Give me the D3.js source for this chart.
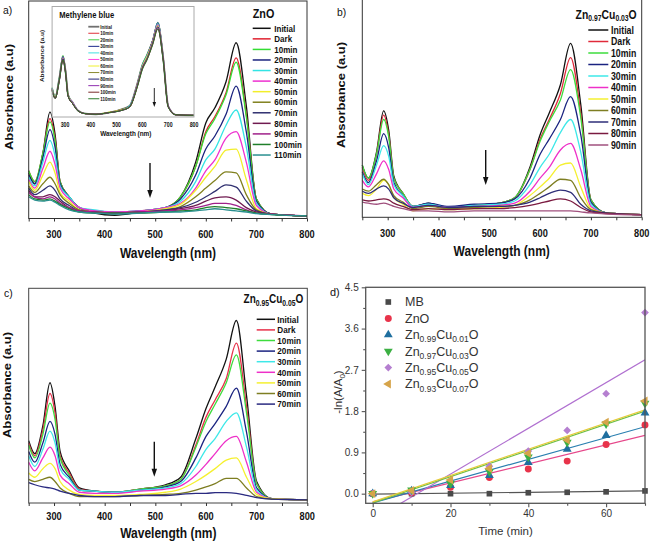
<!DOCTYPE html>
<html><head><meta charset="utf-8">
<script src="https://cdn.jsdelivr.net/npm/d3@7/dist/d3.min.js"></script>
<style>
html,body{margin:0;padding:0;background:#fff;}
svg{display:block;}
text{font-family:Arial,"Liberation Sans",Helvetica,sans-serif;}
</style></head><body>
<svg id="chart" width="652" height="543"></svg>
<script>
// ================= DATA =================
const wavelength = [250,262,278,292,302,312,330,350,380,420,470,520,550,580,600,618,640,660,680,700,730,800];
const waveTicks = [300,400,500,600,700,800];

// (a) ZnO
const labelsZnO = ['Initial','Dark','10min','20min','30min','40min','50min','60min','70min','80min','90min','100min','110min'];
const absZnO = [
 [0.21,0.16,0.30,0.49,0.39,0.17,0.10,0.05,0.025,0.015,0.03,0.05,0.10,0.26,0.44,0.51,0.63,0.81,0.52,0.09,0.02,0.012],
 [0.22,0.17,0.30,0.46,0.37,0.17,0.10,0.05,0.03,0.025,0.035,0.05,0.10,0.24,0.40,0.47,0.58,0.74,0.48,0.09,0.02,0.012],
 [0.22,0.17,0.30,0.445,0.36,0.17,0.10,0.05,0.03,0.025,0.035,0.05,0.10,0.24,0.39,0.46,0.57,0.72,0.47,0.09,0.02,0.012],
 [0.20,0.16,0.28,0.41,0.33,0.16,0.10,0.05,0.035,0.03,0.035,0.05,0.09,0.20,0.32,0.38,0.48,0.61,0.40,0.08,0.02,0.012],
 [0.19,0.15,0.26,0.36,0.29,0.15,0.10,0.05,0.04,0.03,0.035,0.05,0.08,0.17,0.27,0.32,0.43,0.50,0.33,0.07,0.02,0.012],
 [0.18,0.14,0.23,0.31,0.25,0.14,0.09,0.05,0.035,0.03,0.035,0.05,0.07,0.14,0.22,0.27,0.37,0.40,0.26,0.06,0.02,0.012],
 [0.17,0.13,0.20,0.26,0.21,0.12,0.08,0.04,0.03,0.025,0.03,0.045,0.065,0.13,0.19,0.24,0.315,0.32,0.18,0.045,0.02,0.012],
 [0.15,0.12,0.16,0.19,0.16,0.11,0.07,0.04,0.03,0.025,0.03,0.04,0.055,0.10,0.14,0.175,0.215,0.21,0.11,0.04,0.02,0.012],
 [0.14,0.11,0.13,0.15,0.13,0.09,0.06,0.035,0.03,0.025,0.03,0.04,0.05,0.075,0.10,0.125,0.155,0.145,0.08,0.035,0.02,0.012],
 [0.13,0.10,0.10,0.11,0.10,0.08,0.05,0.035,0.03,0.025,0.03,0.035,0.045,0.06,0.08,0.095,0.10,0.085,0.05,0.03,0.02,0.012],
 [0.12,0.10,0.09,0.10,0.09,0.07,0.05,0.035,0.03,0.025,0.03,0.035,0.04,0.05,0.06,0.07,0.07,0.06,0.04,0.025,0.02,0.012],
 [0.11,0.09,0.085,0.09,0.08,0.065,0.045,0.03,0.025,0.025,0.025,0.03,0.035,0.04,0.05,0.055,0.05,0.045,0.035,0.025,0.018,0.012],
 [0.10,0.085,0.08,0.085,0.075,0.06,0.04,0.03,0.025,0.02,0.025,0.03,0.03,0.035,0.04,0.045,0.04,0.035,0.03,0.022,0.018,0.012]
];

// (a) inset: methylene blue alone
const labelsMB = ['Initial','10min','20min','30min','40min','50min','60min','70min','80min','90min','100min','110min'];
const absMB = [
 [0.26,0.18,0.35,0.54,0.42,0.20,0.13,0.06,0.03,0.025,0.04,0.07,0.10,0.30,0.47,0.56,0.69,0.84,0.55,0.10,0.02,0.015],
 [0.26,0.18,0.35,0.55,0.43,0.20,0.13,0.06,0.03,0.025,0.04,0.07,0.10,0.30,0.47,0.56,0.70,0.85,0.56,0.10,0.02,0.015],
 [0.27,0.19,0.36,0.56,0.43,0.21,0.13,0.06,0.03,0.025,0.04,0.07,0.10,0.30,0.48,0.57,0.70,0.86,0.56,0.10,0.02,0.015],
 [0.26,0.18,0.35,0.55,0.42,0.20,0.13,0.06,0.03,0.025,0.04,0.065,0.10,0.29,0.47,0.56,0.70,0.86,0.56,0.10,0.02,0.015],
 [0.26,0.18,0.35,0.54,0.42,0.20,0.13,0.06,0.03,0.025,0.04,0.065,0.10,0.29,0.47,0.56,0.69,0.85,0.55,0.10,0.02,0.015],
 [0.25,0.18,0.34,0.54,0.42,0.20,0.13,0.06,0.03,0.025,0.04,0.065,0.09,0.29,0.46,0.55,0.69,0.84,0.55,0.10,0.02,0.015],
 [0.25,0.18,0.34,0.53,0.41,0.20,0.12,0.06,0.03,0.025,0.045,0.065,0.09,0.28,0.46,0.55,0.68,0.83,0.54,0.10,0.02,0.015],
 [0.25,0.17,0.34,0.53,0.41,0.19,0.12,0.06,0.03,0.025,0.04,0.065,0.09,0.28,0.45,0.54,0.68,0.82,0.54,0.10,0.02,0.015],
 [0.25,0.17,0.34,0.53,0.41,0.19,0.12,0.06,0.03,0.025,0.04,0.06,0.09,0.28,0.45,0.53,0.67,0.82,0.54,0.10,0.02,0.015],
 [0.24,0.17,0.33,0.52,0.40,0.19,0.12,0.055,0.03,0.025,0.04,0.06,0.09,0.28,0.44,0.53,0.67,0.81,0.53,0.10,0.02,0.015],
 [0.24,0.17,0.33,0.52,0.40,0.19,0.12,0.055,0.03,0.025,0.04,0.06,0.09,0.27,0.44,0.52,0.66,0.80,0.53,0.09,0.02,0.015],
 [0.24,0.17,0.33,0.52,0.40,0.19,0.12,0.055,0.03,0.025,0.04,0.06,0.09,0.27,0.43,0.52,0.66,0.80,0.52,0.09,0.02,0.015]
];

// (b) Zn0.97Cu0.03O
const labelsCu03 = ['Initial','Dark','10min','20min','30min','40min','50min','60min','70min','80min','90min'];
const absCu03 = [
 [0.24,0.18,0.30,0.49,0.40,0.19,0.11,0.05,0.065,0.04,0.055,0.065,0.09,0.23,0.38,0.48,0.61,0.80,0.52,0.08,0.02,0.012],
 [0.23,0.17,0.29,0.47,0.38,0.18,0.11,0.05,0.06,0.045,0.055,0.065,0.09,0.22,0.36,0.45,0.57,0.735,0.48,0.08,0.02,0.012],
 [0.24,0.18,0.29,0.45,0.37,0.18,0.11,0.05,0.06,0.045,0.055,0.065,0.09,0.22,0.35,0.44,0.54,0.68,0.46,0.08,0.02,0.012],
 [0.21,0.16,0.26,0.385,0.32,0.16,0.10,0.05,0.065,0.05,0.06,0.065,0.085,0.18,0.29,0.36,0.45,0.555,0.38,0.07,0.02,0.012],
 [0.20,0.15,0.24,0.33,0.28,0.15,0.10,0.05,0.06,0.045,0.055,0.06,0.075,0.15,0.23,0.29,0.39,0.45,0.30,0.06,0.02,0.012],
 [0.17,0.14,0.20,0.26,0.22,0.13,0.09,0.045,0.055,0.045,0.05,0.055,0.065,0.12,0.18,0.23,0.31,0.34,0.22,0.05,0.02,0.012],
 [0.11,0.10,0.13,0.17,0.15,0.09,0.06,0.03,0.04,0.035,0.04,0.045,0.055,0.10,0.14,0.18,0.24,0.25,0.14,0.04,0.02,0.012],
 [0.13,0.12,0.15,0.175,0.15,0.10,0.07,0.04,0.05,0.04,0.045,0.05,0.055,0.08,0.11,0.14,0.175,0.17,0.09,0.035,0.02,0.012],
 [0.12,0.11,0.13,0.145,0.13,0.09,0.065,0.045,0.055,0.045,0.05,0.05,0.055,0.07,0.09,0.11,0.125,0.115,0.06,0.03,0.02,0.012],
 [0.08,0.075,0.08,0.085,0.08,0.065,0.05,0.035,0.04,0.035,0.04,0.04,0.045,0.055,0.065,0.075,0.085,0.075,0.045,0.025,0.018,0.012],
 [0.07,0.065,0.06,0.065,0.06,0.05,0.04,0.03,0.03,0.025,0.03,0.03,0.03,0.03,0.03,0.03,0.03,0.03,0.025,0.02,0.015,0.01]
];

// (c) Zn0.95Cu0.05O
const labelsCu05 = ['Initial','Dark','10min','20min','30min','40min','50min','60min','70min'];
const absCu05 = [
 [0.29,0.23,0.36,0.56,0.45,0.24,0.15,0.07,0.055,0.05,0.065,0.085,0.12,0.30,0.44,0.54,0.67,0.85,0.50,0.10,0.02,0.015],
 [0.28,0.22,0.34,0.51,0.42,0.22,0.14,0.065,0.055,0.05,0.065,0.08,0.11,0.27,0.40,0.48,0.58,0.745,0.45,0.09,0.02,0.015],
 [0.27,0.21,0.32,0.465,0.39,0.21,0.13,0.06,0.055,0.05,0.065,0.08,0.11,0.26,0.38,0.46,0.56,0.69,0.42,0.09,0.02,0.015],
 [0.24,0.19,0.28,0.38,0.32,0.18,0.12,0.06,0.055,0.05,0.06,0.075,0.10,0.21,0.31,0.37,0.45,0.535,0.33,0.07,0.02,0.015],
 [0.22,0.17,0.25,0.335,0.28,0.16,0.11,0.06,0.055,0.05,0.06,0.07,0.09,0.17,0.25,0.30,0.38,0.42,0.26,0.06,0.02,0.015],
 [0.19,0.15,0.21,0.26,0.22,0.13,0.09,0.05,0.045,0.045,0.055,0.065,0.08,0.13,0.18,0.23,0.29,0.31,0.19,0.05,0.02,0.015],
 [0.14,0.12,0.16,0.185,0.16,0.10,0.06,0.04,0.035,0.035,0.04,0.05,0.065,0.10,0.13,0.16,0.20,0.21,0.12,0.04,0.02,0.015],
 [0.11,0.10,0.11,0.12,0.10,0.07,0.045,0.03,0.03,0.03,0.035,0.04,0.045,0.06,0.075,0.09,0.115,0.115,0.07,0.03,0.018,0.015],
 [0.095,0.085,0.075,0.07,0.065,0.055,0.045,0.035,0.03,0.03,0.035,0.035,0.04,0.045,0.045,0.048,0.048,0.045,0.035,0.025,0.018,0.015]
];

// (d) kinetics
const timeMin = [0,10,20,30,40,50,60,70];
const timeTicks = [0,20,40,60];
const lnTicks = [0,0.9,1.8,2.7,3.6,4.5];
const sampleNames = ['MB','ZnO','Zn0.99Cu0.01O','Zn0.97Cu0.03O','Zn0.95Cu0.05O','Zn0.93Cu0.07O'];
const lnMB   = [0,0.00,0.00,0.00,0.02,0.03,0.04,0.06];
const lnZnO  = [0,0.02,0.14,0.35,0.54,0.71,1.07,1.50];
const lnCu01 = [0,0.06,0.18,0.40,0.68,0.97,1.27,1.76];
const lnCu03 = [0,0.08,0.22,0.48,0.80,1.12,1.52,1.97];
const lnCu05 = [0,0.03,0.25,0.60,0.93,1.38,2.18,3.95];
const lnCu07 = [0,0.07,0.30,0.55,0.88,1.17,1.56,2.02];
const fitTime = [0,70];
const fitMB   = [-0.01,0.06];
const fitZnO  = [-0.18,1.27];
const fitCu01 = [-0.20,1.46];
const fitCu03 = [-0.20,1.80];
const fitCu05 = [-0.57,2.92];
const fitCu07 = [-0.18,1.83];

// ================= STYLES =================
const colZnO = ['#111111','#e0202e','#33dd33','#1a237e','#33e4e4','#ee30d0','#f2ee2a','#80801e','#303070','#701a50','#a0208a','#1f7f2a','#2a9090'];
const colMB  = ['#707070','#e0303a','#44cc44','#1c2a8c','#40e0e0','#ff40e0','#f0f030','#8a8a30','#22227a','#9030b0','#7a2a2a','#2a7a2a'];
const colCu03 = ['#111111','#e02a3a','#3ddc3d','#1a2380','#3ee8e8','#ee30c8','#f5f030','#7e7e22','#2e2e78','#7a1a40','#a0507e'];
const colCu05 = ['#111111','#e8304a','#3ddc3d','#1a2380','#3ee8e8','#ee30c8','#f5f030','#7e7e22','#2a2a80'];

const svg = d3.select('#chart');

function txt(g, x, y, s, o) {
  o = Object.assign({size:10, weight:'bold', anchor:'start', sx:0.8, fill:'#111', rot:false}, o);
  const tr = o.rot ? `translate(${x},${y}) rotate(-90) scale(1,${o.sx})` : `translate(${x},${y}) scale(${o.sx},1)`;
  return g.append('text').attr('transform', tr).attr('text-anchor', o.anchor).attr('dy','0.35em')
    .style('font-size', o.size+'px').style('font-weight', o.weight).attr('fill', o.fill).text(s);
}
function formula(g, x, yc, s, o) {
  o = Object.assign({size:12, sub:8, weight:'bold', anchor:'start', sx:0.8, fill:'#111', shift:0.3}, o);
  const t = g.append('text').attr('transform', `translate(${x},${yc + o.size*0.35}) scale(${o.sx},1)`)
    .attr('text-anchor', o.anchor).style('font-size', o.size+'px').style('font-weight', o.weight).attr('fill', o.fill);
  const dy = o.size*o.shift; let down = false;
  s.split(/(\d\.\d+)/).forEach((p,i)=>{
    if (!p) return;
    const ts = t.append('tspan').text(p);
    if (i%2) { ts.style('font-size', o.sub+'px'); if(!down){ ts.attr('dy', dy); down = true; } }
    else if (down) { ts.attr('dy', -dy); down = false; }
  });
  return t;
}
function arrow(g, x, y1, y2, hl, hw, w) {
  g.append('line').attr('x1',x).attr('x2',x).attr('y1',y1).attr('y2',y2-hl+1).attr('stroke','#111').attr('stroke-width',w);
  g.append('path').attr('d',`M${x-hw/2},${y2-hl}L${x+hw/2},${y2-hl}L${x},${y2}Z`).attr('fill','#111');
}

function spectra(c) {
  const g = svg.append('g');
  const x = d3.scaleLinear().domain([250,800]).range([c.l, c.r]);
  const y = d3.scaleLinear().domain([0,1]).range([c.b, c.t]);
  if (c.bg) g.append('rect').attr('x',c.l).attr('y',c.frameTop).attr('width',c.r-c.l).attr('height',c.b-c.frameTop).attr('fill','#fff');
  const line = d3.line().x((d,i)=>x(wavelength[i])).y(d=>y(d)).curve(d3.curveMonotoneX);
  c.data.forEach((s,i)=>{
    g.append('path').attr('d', line(s)).attr('fill','none').attr('stroke', c.colors[i])
      .attr('stroke-width', (c.lw0 && i===0) ? c.lw0 : c.lw).attr('stroke-linejoin','round');
  });
  g.append('rect').attr('x',c.l).attr('y',c.frameTop).attr('width',c.r-c.l).attr('height',c.b-c.frameTop)
    .attr('fill','none').attr('stroke',c.frameCol).attr('stroke-width',c.frameW);
  if (c.tick) {
    const ax = g.append('g').attr('transform',`translate(0,${c.b})`)
      .call(d3.axisBottom(x).tickValues(d3.range(250,801,50)).tickSize(c.tick).tickFormat(''));
    ax.select('.domain').remove();
    ax.selectAll('line').attr('stroke','#333');
  }
  waveTicks.forEach(v=> txt(g, x(v), c.tlY, v, {size:c.tlSize, anchor:'middle'}));
  txt(g, c.xtX, c.xtY, 'Wavelength (nm)', {size:c.xtSize, anchor:'middle'});
  txt(g, c.ytX, c.ytY, 'Absorbance (a.u)', {size:c.ytSize, anchor:'middle', rot:true});
  if (c.legTitle) formula(g, c.legTX, c.legTY, c.legTitle, {size:c.legTSize, sub:c.legTSub, anchor:c.legTAnchor, shift:0.2});
  c.labels.forEach((lab,i)=>{
    const yy = c.legY0 + i*c.legStep;
    g.append('line').attr('x1',c.legX1).attr('x2',c.legX2).attr('y1',yy).attr('y2',yy)
      .attr('stroke',c.colors[i]).attr('stroke-width',(c.lw0 && i===0) ? c.lw0 : c.legLW);
    txt(g, c.legX2+c.legGap, yy, lab, {size:c.legSize, sx:c.legSX});
  });
  arrow(g, c.arX, c.arY1, c.arY2, c.arHL, c.arHW, c.arW);
  if (c.panel) txt(g, c.panel[0], c.panel[1], c.panel[2], {size:11.5, weight:'normal', sx:0.9});
  return g;
}

// (a)
spectra({data:absZnO, labels:labelsZnO, colors:colZnO, l:28.7, r:307, t:1.5, b:218.5, frameTop:1, frameCol:'#333', frameW:1,
  lw:1.3, tick:3, tlY:234, tlSize:11.5, xtX:168, xtY:253, xtSize:15, ytX:9, ytY:97, ytSize:13,
  legTitle:'ZnO', legTX:252.7, legTY:13.5, legTSize:13.5, legTSub:9, legTAnchor:'start',
  legX1:252.7, legX2:270.7, legGap:3.6, legY0:28.3, legStep:10.56, legSize:9.2, legSX:0.87, legLW:1.5,
  arX:150, arY1:163, arY2:198, arHL:8, arHW:5.5, arW:1.4, panel:[3,10,'a)']});
// (a) inset
spectra({data:absMB, labels:labelsMB, colors:colMB, l:52.1, r:194, t:7, b:117, frameTop:6.5, frameCol:'#aaa', frameW:1, bg:true,
  lw:0.9, lw0:1.8, tick:0, tlY:125, tlSize:6.5, xtX:125.8, xtY:133.3, xtSize:8, ytX:42.7, ytY:56, ytSize:6.4,
  legTitle:'Methylene blue', legTX:59.3, legTY:15, legTSize:9.5, legTSub:7, legTAnchor:'start',
  legX1:88.3, legX2:99.3, legGap:1, legY0:26.7, legStep:6.55, legSize:5.5, legSX:0.82, legLW:1,
  arX:154.3, arY1:88, arY2:107, arHL:5, arHW:3.5, arW:0.9});
// (b)
spectra({data:absCu03, labels:labelsCu03, colors:colCu03, l:362.3, r:641.7, t:0, b:217.3, frameTop:-1, frameCol:'#333', frameW:1,
  lw:1.3, tick:3, tlY:233, tlSize:11.5, xtX:501.7, xtY:251, xtSize:15, ytX:341.5, ytY:95, ytSize:13,
  legTitle:'Zn0.97Cu0.03O', legTX:636.7, legTY:14, legTSize:13, legTSub:8.5, legTAnchor:'end',
  legX1:588.3, legX2:608.3, legGap:2.7, legY0:30, legStep:11.5, legSize:10.2, legSX:0.86, legLW:1.5,
  arX:485.7, arY1:150, arY2:185, arHL:8, arHW:5.5, arW:1.4, panel:[337,12,'b)']});
// (c)
spectra({data:absCu05, labels:labelsCu05, colors:colCu05, l:28.7, r:307.3, t:288.3, b:503, frameTop:288.3, frameCol:'#444', frameW:1,
  lw:1.3, tick:3, tlY:515.7, tlSize:11.5, xtX:168.3, xtY:533, xtSize:15, ytX:7, ytY:385, ytSize:13,
  legTitle:'Zn0.95Cu0.05O', legTX:303.3, legTY:299, legTSize:12.5, legTSub:8.5, legTAnchor:'end',
  legX1:256.7, legX2:275, legGap:2.3, legY0:319.3, legStep:10.6, legSize:9.3, legSX:0.88, legLW:1.5,
  arX:154.3, arY1:441.7, arY2:476.7, arHL:8, arHW:5.5, arW:1.4, panel:[4,293,'c)']});

// (d) kinetics
(function(){
  const g = svg.append('g');
  const L=365.7, R=645, T=287.3, B=503.3;
  const x = d3.scaleLinear().domain([-1.8,70]).range([L,R]);
  const y = d3.scaleLinear().domain([-0.21,4.5]).range([B,T]);
  g.append('clipPath').attr('id','clipd').append('rect').attr('x',L).attr('y',T).attr('width',R-L).attr('height',B-T);
  const series = [lnMB,lnZnO,lnCu01,lnCu03,lnCu05,lnCu07];
  const fits = [fitMB,fitZnO,fitCu01,fitCu03,fitCu05,fitCu07];
  const markCol = ['#4a4a4a','#e8334a','#1f6f9f','#3cb043','#b57fd0','#d6a44a'];
  const lineCol = ['#555555','#e6478a','#2a7fb0','#6cc04a','#b070d0','#e6cc3a'];
  const shapes = [[d3.symbolSquare,0,32],[d3.symbolCircle,0,38],[d3.symbolTriangle,0,34],[d3.symbolTriangle,180,34],[d3.symbolSquare,45,30],[d3.symbolTriangle,-90,34]];
  const fl = d3.line().x(d=>x(d[0])).y(d=>y(d[1]));
  const order = [0,1,2,4,3,5];
  order.forEach(i=>{
    g.append('path').attr('d', fl(fitTime.map((t,k)=>[t,fits[i][k]]))).attr('clip-path','url(#clipd)')
      .attr('fill','none').attr('stroke',lineCol[i]).attr('stroke-width',1.2);
  });
  const sym = (i)=> d3.symbol().type(shapes[i][0]).size(shapes[i][2])();
  order.forEach(i=>{
    g.selectAll(null).data(series[i]).enter().append('path').attr('d', sym(i))
      .attr('transform',(v,k)=>`translate(${x(timeMin[k])},${y(v)}) rotate(${shapes[i][1]})`)
      .attr('fill',markCol[i]);
  });
  const styleAx = a => { a.select('.domain').remove(); a.selectAll('line').attr('stroke','#555').attr('stroke-width',1.1);
    a.selectAll('text').style('font-size','10px').attr('fill','#333').style('font-family','Arial,"Liberation Sans",sans-serif'); };
  const xa = g.append('g').attr('transform',`translate(0,${B})`).call(d3.axisBottom(x).tickValues(timeTicks).tickSize(4).tickPadding(3).tickFormat(d3.format('d')));
  styleAx(xa);
  const xm = g.append('g').attr('transform',`translate(0,${B})`).call(d3.axisBottom(x).tickValues([10,30,50,70]).tickSize(2.5).tickFormat(''));
  styleAx(xm);
  const ya = g.append('g').attr('transform',`translate(${L},0)`).call(d3.axisLeft(y).tickValues(lnTicks).tickSize(4).tickPadding(3).tickFormat(d3.format('.1f')));
  styleAx(ya);
  const ym = g.append('g').attr('transform',`translate(${L},0)`).call(d3.axisLeft(y).tickValues([0.45,1.35,2.25,3.15,4.05]).tickSize(2.5).tickFormat(''));
  styleAx(ym);
  g.append('rect').attr('x',L).attr('y',T).attr('width',R-L).attr('height',B-T).attr('fill','none').attr('stroke','#555').attr('stroke-width',1.3);
  txt(g, 505.5, 531, 'Time (min)', {size:11.5, weight:'normal', sx:1, anchor:'middle', fill:'#333'});
  const yl = g.append('text').attr('transform','translate(342,392) rotate(-90)').attr('text-anchor','middle')
    .style('font-size','11.5px').attr('fill','#333');
  yl.append('tspan').text('-ln(A/A');
  yl.append('tspan').text('0').style('font-size','8px').attr('dy',3);
  yl.append('tspan').text(')').attr('dy',-3);
  sampleNames.forEach((n,i)=>{
    const yy = 302 + i*16.4;
    g.append('path').attr('d', sym(i)).attr('transform',`translate(388.3,${yy}) rotate(${shapes[i][1]})`).attr('fill',markCol[i]);
    formula(g, 405, yy, n, {size:12.5, sub:8.5, weight:'normal', sx:1, fill:'#333', shift:0.25});
  });
  txt(g, 330, 292, 'd)', {size:11.5, weight:'normal', sx:0.95});
})();
</script>
</body></html>
